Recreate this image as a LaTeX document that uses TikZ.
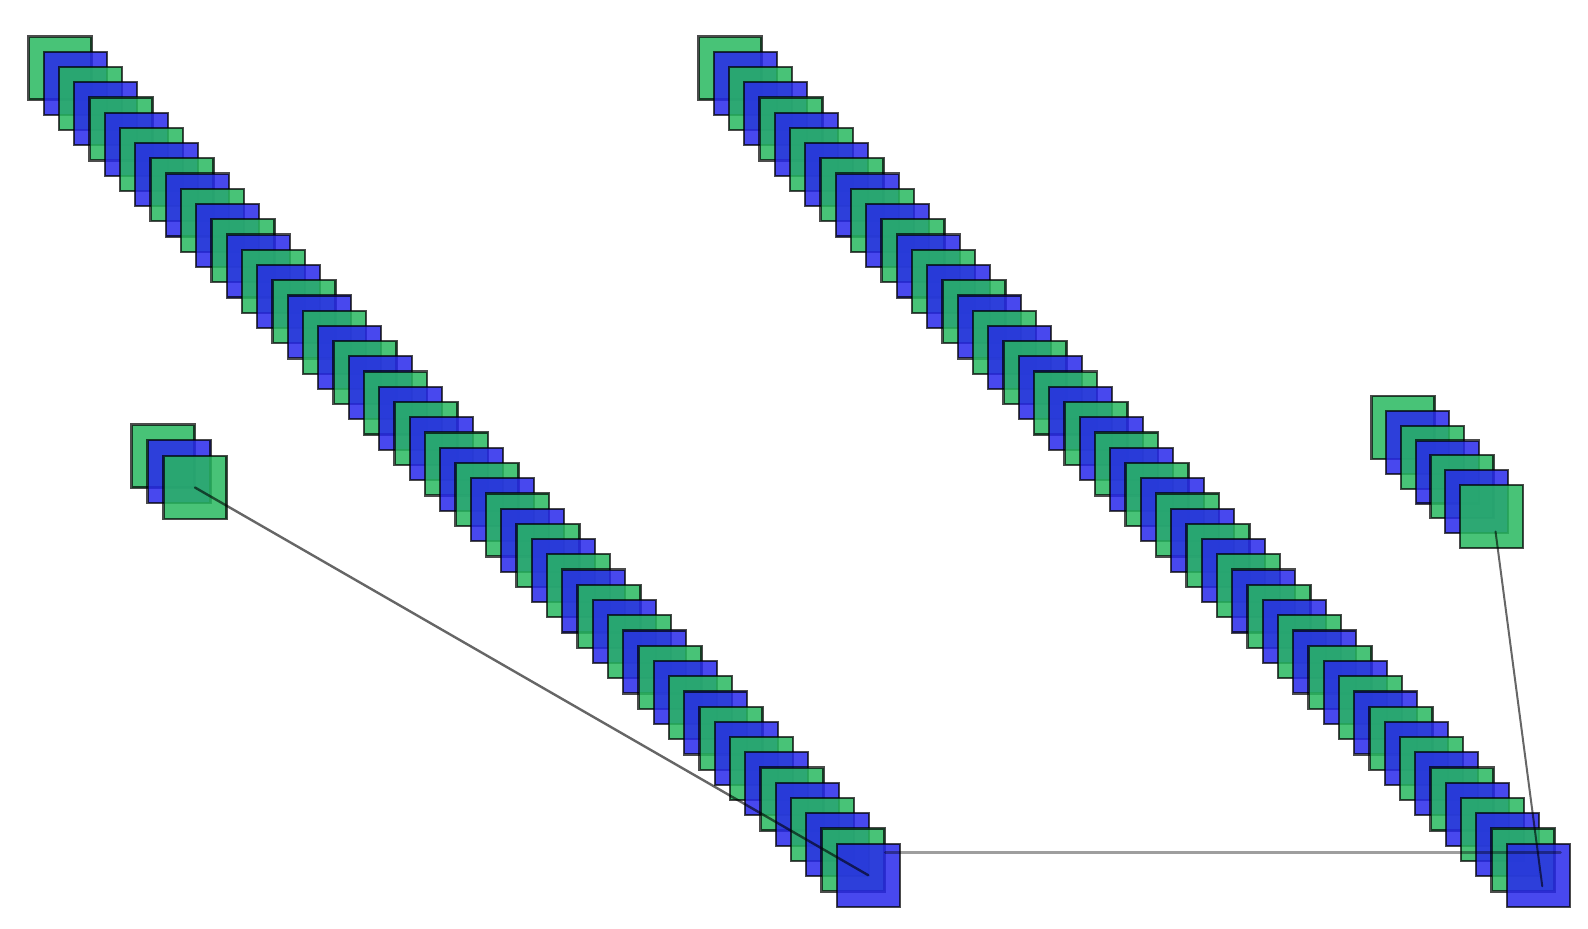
\documentclass[tikz,border=0pt]{standalone}
\usetikzlibrary{positioning}
\definecolor{boxgreen}{RGB}{40,185,95}
\definecolor{boxblue}{RGB}{40,40,235}

\begin{document}
\begin{tikzpicture}[x=0.5pt,y=-0.5pt,
        box/.style={rectangle, draw=black, draw opacity=0.7, line width=1.1pt, fill opacity=0.85, minimum size=31.5pt, inner sep=0pt},
        box0/.style={box, fill=boxgreen},
        box1/.style={box, fill=boxblue},
        link/.style={draw=black, line cap=round}]
        \useasboundingbox (0,0) rectangle (1588,928);

        % two long chains
        \foreach \i [evaluate=\i as \x using 60+15.25*\i, evaluate=\i as \y using 68+15.23*\i] in {0,...,53} {
            \pgfmathtruncatemacro\k{mod(\i,2)}
            \node at (\x,\y) [box\k] (chainA_\i) {};
        }
        \foreach \i [evaluate=\i as \x using 730+15.25*\i, evaluate=\i as \y using 68+15.23*\i] in {0,...,53} {
            \pgfmathtruncatemacro\k{mod(\i,2)}
            \node at (\x,\y) [box\k] (chainB_\i) {};
        }

        % short chains
        \foreach \i [evaluate=\i as \x using 163+16*\i, evaluate=\i as \y using 456+15.75*\i] in {0,...,2} {
            \pgfmathtruncatemacro\k{mod(\i,2)}
            \node at (\x,\y) [box\k] (chainC_\i) {};
        }
        \foreach \i [evaluate=\i as \x using 1403+14.75*\i, evaluate=\i as \y using 427.5+14.83*\i] in {0,...,6} {
            \pgfmathtruncatemacro\k{mod(\i,2)}
            \node at (\x,\y) [box\k] (chainD_\i) {};
        }

        \draw   (chainC_2.center) edge[link, draw opacity=0.6, line width=1.2pt] (chainA_53.center)
                ([shift={(17,-23)}]chainA_53.center) edge[link, draw opacity=0.38, line width=1.5pt] ([shift={(22,-23)}]chainB_53.center)
                ([shift={(4,15)}]chainD_6.center) edge[link, draw opacity=0.6, line width=1pt] ([shift={(4,11)}]chainB_53.center)
            ;

    \end{tikzpicture}
\end{document}
